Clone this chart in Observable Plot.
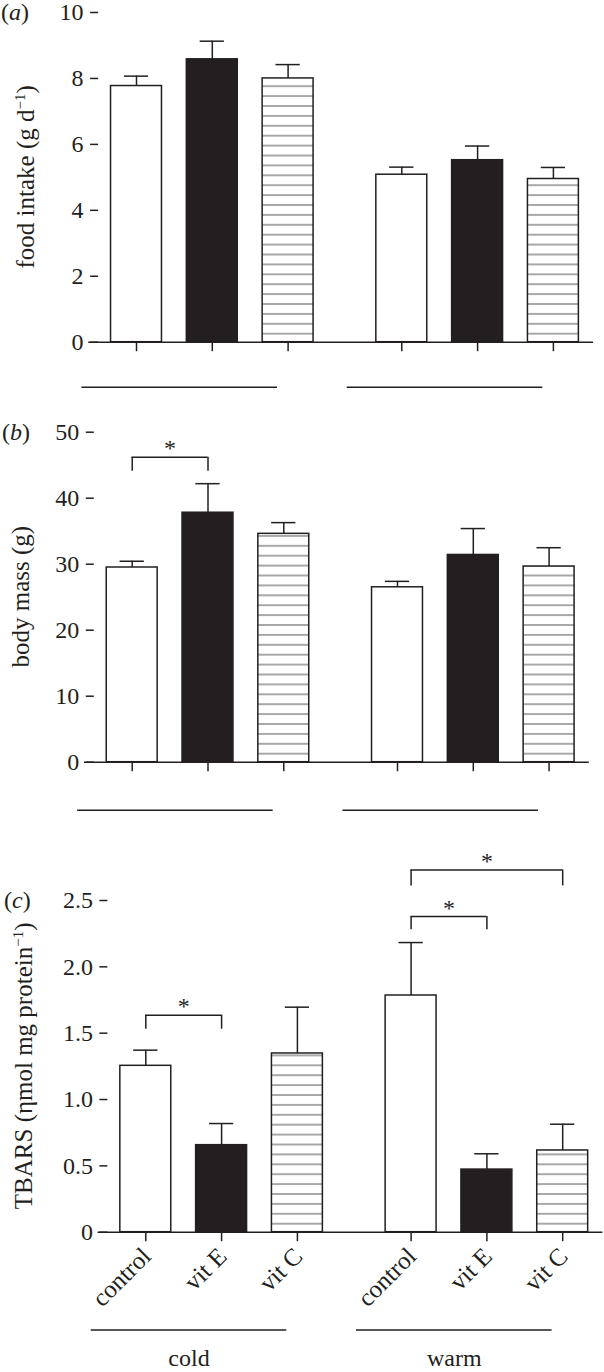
<!DOCTYPE html>
<html>
<head>
<meta charset="utf-8">
<script src="https://cdn.jsdelivr.net/npm/d3@7"></script>
<script src="https://cdn.jsdelivr.net/npm/@observablehq/plot@0.6"></script>
<style>
  body { margin: 0; background: #fff; }
  #chart { position: relative; width: 604px; height: 1372px; }
  #chart svg { position: absolute; left: 0; overflow: visible; }
</style>
</head>
<body>
<div id="chart"></div>
<script>
// ---------- data ----------
const groups = ["cold", "warm"];
const treatments = ["control", "vit E", "vit C"];

// order: cold control, cold vit E, cold vit C, warm control, warm vit E, warm vit C
const foodMean = [7.77, 8.58, 8.00, 5.08, 5.52, 4.95];
const foodSem  = [0.30, 0.55, 0.42, 0.23, 0.43, 0.35];
const massMean = [29.5, 37.8, 34.6, 26.5, 31.4, 29.65];
const massSem  = [0.95, 4.4, 1.7, 0.9, 4.0, 2.85];
const tbarsMean = [1.254, 0.656, 1.347, 1.784, 0.472, 0.616];
const tbarsSem  = [0.118, 0.163, 0.349, 0.399, 0.119, 0.198];

const foodTicks = [0, 2, 4, 6, 8, 10];
const massTicks = [0, 10, 20, 30, 40, 50];
const tbarsTicks = [0, 0.5, 1, 1.5, 2, 2.5];

const massSig = [
  {group: "cold", from: "control", to: "vit E", y: 46.2, leg: 44.1}
];
const tbarsSig = [
  {group: "cold", from: "control", to: "vit E", y: 1.636, leg: 1.53},
  {group: "warm", from: "control", to: "vit E", y: 2.38, leg: 2.28},
  {group: "warm", from: "control", to: "vit C", y: 2.73, leg: 2.61}
];

// ---------- layout ----------
const W = 604;
const INK = "#231f20";
const BLACK = "#231f20";
const HALF = 0.336;   // half bar width (in slot units)
const CAP = 0.16;     // half cap width
const GROUP_GAP = 3.5;
const pos = (g, t) => groups.indexOf(g) * GROUP_GAP + treatments.indexOf(t);
const groupMid = g => groups.indexOf(g) * GROUP_GAP + 1;
const groupLine = g => [groupMid(g) - 1.72, groupMid(g) + 0.86];

function rowsOf(mean, sem) {
  const rows = [];
  groups.forEach((g, gi) => treatments.forEach((t, ti) => {
    const i = gi * treatments.length + ti;
    rows.push({group: g, treatment: t, mean: mean[i], sem: sem[i], hi: mean[i] + sem[i], pos: pos(g, t)});
  }));
  return rows;
}

const panels = [
  {key: "a", mean: foodMean, sem: foodSem, ticks: foodTicks, fmt: d => String(d),
   title: ["food intake (g d", "\u22121", ")"], sig: [],
   top: 0, height: 395, mt: 12, mb: 53.3, ml: 98.1, lineDy: 45, titleX: 34, letterX: 1, labels: false},
  {key: "b", mean: massMean, sem: massSem, ticks: massTicks, fmt: d => String(d),
   title: ["body mass (g)"], sig: massSig,
   top: 395, height: 425, mt: 36.7, mb: 58.3, ml: 93.8, lineDy: 48, titleX: 29, letterX: 2, labels: false},
  {key: "c", mean: tbarsMean, sem: tbarsSem, ticks: tbarsTicks, fmt: d => d === 0 ? "0" : d.toFixed(1),
   title: ["TBARS (\u03b7mol mg protein", "\u22121", ")"], sig: tbarsSig,
   top: 820, height: 552, mt: 80, mb: 140.3, ml: 107.4, lineDy: 97.7, titleX: 32, letterX: 4, labels: true}
];

const container = document.getElementById("chart");

panels.forEach(p => {
  const rows = rowsOf(p.mean, p.sem);
  const hatchId = "hatch-" + p.key;
  const fillOf = t => t === "control" ? "white" : t === "vit E" ? BLACK : `url(#${hatchId})`;
  const plotW = 6.5 * 75.8;
  const mr = W - p.ml - plotW;

  const marks = [
    Plot.rect(rows, {
      x1: d => d.pos - HALF, x2: d => d.pos + HALF, y1: 0, y2: "mean",
      fill: d => fillOf(d.treatment), stroke: INK, strokeWidth: 1.5
    }),
    Plot.ruleX(rows, {x: "pos", y1: "mean", y2: "hi", stroke: INK, strokeWidth: 1.5}),
    Plot.ruleY(rows, {y: "hi", x1: d => d.pos - CAP, x2: d => d.pos + CAP, stroke: INK, strokeWidth: 1.5}),
    Plot.axisY({ticks: p.ticks, tickFormat: p.fmt, tickSize: 8, tickPadding: 7, line: true, label: null, strokeWidth: 1.5}),
    Plot.ruleY([0], {x1: -0.63, x2: 6.03, stroke: INK, strokeWidth: 1.5}),
    Plot.axisX({ticks: rows.map(d => d.pos), tickSize: 9.5, tickFormat: () => "", label: null, strokeWidth: 1.5}),
    Plot.ruleY(groups, {y: 0, x1: g => groupLine(g)[0], x2: g => groupLine(g)[1], dy: p.lineDy, stroke: INK, strokeWidth: 1.5}),
    // significance brackets
    Plot.ruleY(p.sig, {y: "y", x1: d => pos(d.group, d.from), x2: d => pos(d.group, d.to), stroke: INK, strokeWidth: 1.5}),
    Plot.ruleX(p.sig, {x: d => pos(d.group, d.from), y1: "leg", y2: "y", stroke: INK, strokeWidth: 1.5}),
    Plot.ruleX(p.sig, {x: d => pos(d.group, d.to), y1: "leg", y2: "y", stroke: INK, strokeWidth: 1.5}),
    Plot.text(p.sig, {x: d => (pos(d.group, d.from) + pos(d.group, d.to)) / 2, y: "y", text: () => "*",
      fontSize: 24, lineAnchor: "middle", dy: -8.5, fill: INK})
  ];
  if (p.labels) {
    marks.push(
      Plot.text(rows, {x: "pos", y: 0, text: "treatment", rotate: -45, textAnchor: "end",
        lineAnchor: "middle", dx: 1, dy: 20, fontSize: 25, fill: INK}),
      Plot.text(groups, {x: g => (groupLine(g)[0] + groupLine(g)[1]) / 2, y: 0, text: g => g,
        lineAnchor: "middle", dy: p.lineDy + 28.5, fontSize: 24, fill: INK})
    );
  }

  const svgNode = Plot.plot({
    width: W,
    height: p.height,
    marginTop: p.mt,
    marginBottom: p.mb,
    marginLeft: p.ml,
    marginRight: mr,
    x: {domain: [-0.5, 6], axis: null},
    y: {domain: [p.ticks[0], p.ticks[p.ticks.length - 1]], axis: null},
    color: {type: "identity"},
    style: {fontFamily: "'Liberation Serif', 'Times New Roman', serif", fontSize: "24px", color: INK, background: "transparent", overflow: "visible"},
    marks
  });
  svgNode.style.top = p.top + "px";
  container.appendChild(svgNode);

  const svg = d3.select(svgNode);
  const baseline = p.height - p.mb;
  const pat = svg.insert("defs", ":first-child").append("pattern")
    .attr("id", hatchId)
    .attr("patternUnits", "userSpaceOnUse")
    .attr("width", 20).attr("height", 9.9)
    .attr("patternTransform", `translate(0, ${baseline - 8 - 4.95})`);
  pat.append("rect").attr("width", 20).attr("height", 9.9).attr("fill", "white");
  pat.append("line").attr("x1", 0).attr("x2", 20).attr("y1", 4.95).attr("y2", 4.95)
    .attr("stroke", "#9a9a9a").attr("stroke-width", 1.7);

  // y-axis title
  const cy = (p.mt + baseline) / 2;
  const t = svg.append("text")
    .attr("transform", `translate(${p.titleX},${cy}) rotate(-90)`)
    .attr("text-anchor", "middle").attr("font-size", 25).attr("fill", INK);
  t.append("tspan").text(p.title[0]);
  if (p.title.length > 1) {
    t.append("tspan").attr("dy", -9).attr("font-size", 15).text(p.title[1]);
    t.append("tspan").attr("dy", 9).text(p.title[2]);
  }

  // panel letter
  const l = svg.append("text").attr("x", p.letterX).attr("y", p.mt + 8)
    .attr("text-anchor", "start").attr("font-size", 24).attr("fill", INK);
  l.append("tspan").text("(");
  l.append("tspan").attr("font-style", "italic").text(p.key);
  l.append("tspan").text(")");
});
</script>
</body>
</html>
